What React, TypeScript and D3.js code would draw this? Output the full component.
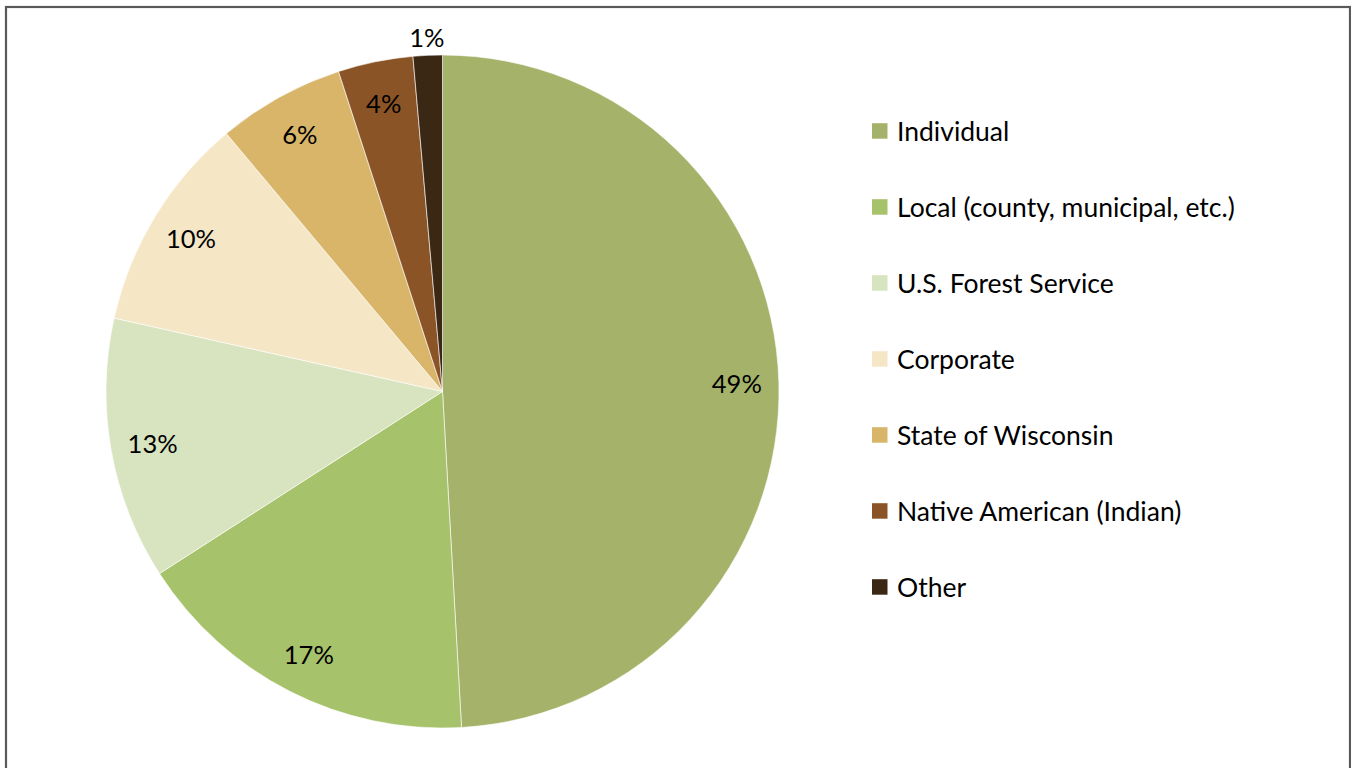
import React from "react";
import * as d3 from "d3";

const categories = [
  "Individual",
  "Local (county, municipal, etc.)",
  "U.S. Forest Service",
  "Corporate",
  "State of Wisconsin",
  "Native American (Indian)",
  "Other",
];
const values = [49.1, 16.8, 12.6, 10.4, 6.1, 3.6, 1.4];
const colors = ["#A5B36A", "#A6C26B", "#D8E3BF", "#F5E6C6", "#D9B56A", "#8B5426", "#3A2714"];

const W = 1351;
const H = 768;
const cx = 442.5;
const cy = 391.5;
const R = 336.5;
const FONT = "Lato, 'Open Sans', sans-serif";

export default function App() {
  const total = d3.sum(values);
  const pie = d3.pie<number>().sort(null).value((d) => d)(values);
  const arc = d3.arc<d3.PieArcDatum<number>>().innerRadius(0).outerRadius(R);
  const fmt = d3.format(".0%");
  const legendY = d3.scalePoint<number>().domain(d3.range(categories.length)).range([131, 587]);

  return (
    <svg width={W} height={H} style={{ position: "absolute", left: 0, top: 0, background: "#fff" }}>
      <rect x={6} y={7} width={1344} height={820} fill="#fff" stroke="#595959" strokeWidth={2.2} />
      <g transform={`translate(${cx},${cy})`}>
        {pie.map((p, i) => (
          <path key={i} d={arc(p) || ""} fill={colors[i]} stroke="#fff" strokeWidth={0.6} />
        ))}
        {pie.map((p, i) => {
          const mid = (p.startAngle + p.endAngle) / 2;
          const frac = p.value / total;
          const r = frac < 0.02 ? R + 18 : R * 0.875;
          const x = Math.sin(mid) * r;
          const y = -Math.cos(mid) * r;
          return (
            <text
              key={i}
              x={x}
              y={y}
              textAnchor="middle"
              dominantBaseline="central"
              fontFamily={FONT}
              fontSize={25.5}
              fill="#000"
            >
              {fmt(frac)}
            </text>
          );
        })}
      </g>
      <g>
        {categories.map((c, i) => (
          <g key={c} transform={`translate(872,${legendY(i)})`}>
            <rect x={0} y={-7.8} width={15.5} height={15.5} fill={colors[i]} />
            <text x={25} y={0} dominantBaseline="central" fontFamily={FONT} fontSize={26.5} fill="#000">
              {c}
            </text>
          </g>
        ))}
      </g>
    </svg>
  );
}
